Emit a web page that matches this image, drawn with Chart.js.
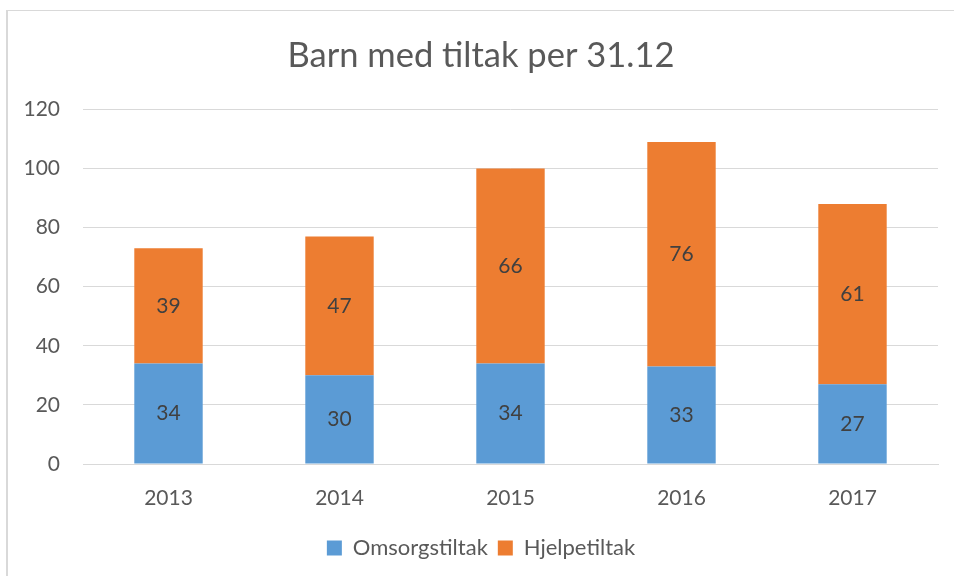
<!DOCTYPE html>
<html>
<head>
<meta charset="utf-8">
<script src="https://cdn.jsdelivr.net/npm/chart.js@4"></script>
<style>
  html, body { margin: 0; padding: 0; background: #fff; }
  #wrap { position: relative; width: 954px; height: 576px; overflow: hidden; }
  #frame { position: absolute; left: 6px; top: 10px; width: 980px; height: 600px; border-left: 2px solid #d9d9d9; border-top: 1px solid #d9d9d9; }
  #myChart { position: absolute; left: 0; top: 0; }
</style>
</head>
<body>
<div id="wrap">
  <div id="frame"></div>
  <canvas id="myChart" width="954" height="576"></canvas>
</div>
<script>
const years = ['2013', '2014', '2015', '2016', '2017']
const omsorg = [34, 30, 34, 33, 27]
const hjelpe = [39, 47, 66, 76, 61]
const yTicks = [0, 20, 40, 60, 80, 100, 120]

const grey = '#595959'
const fontName = 'Lato, "Open Sans", sans-serif'

// writes the value in the middle of each bar
const barLabels = {
  id: 'barLabels',
  afterDatasetsDraw(chart) {
    const ctx = chart.ctx
    ctx.save()
    ctx.font = '21px ' + fontName
    ctx.fillStyle = '#404040'
    ctx.textAlign = 'center'
    ctx.textBaseline = 'middle'
    chart.data.datasets.forEach((ds, i) => {
      chart.getDatasetMeta(i).data.forEach((bar, j) => {
        const mid = (bar.y + bar.base) / 2
        ctx.fillText(ds.data[j], bar.x, mid)
      })
    })
    ctx.restore()
  }
}

const ctx = document.getElementById('myChart')

new Chart(ctx, {
  type: 'bar',
  data: {
    labels: years,
    datasets: [{
      label: 'Omsorgstiltak',
      data: omsorg,
      backgroundColor: '#5b9bd5',
      borderWidth: 0
    },
    {
      label: 'Hjelpetiltak',
      data: hjelpe,
      backgroundColor: '#ed7d31',
      borderWidth: 0
    }]
  },
  plugins: [barLabels],
  options: {
    responsive: false,
    animation: false,
    layout: { padding: { left: 24, right: 16, top: 0, bottom: 7 } },
    datasets: { bar: { categoryPercentage: 1, barPercentage: 0.4 } },
    plugins: {
      tooltip: { enabled: false },
      title: {
        display: true,
        text: 'Barn med tiltak per 31.12',
        color: grey,
        font: { family: fontName, size: 34.5, weight: 'normal' },
        padding: { top: 35, bottom: 33 }
      },
      legend: {
        position: 'bottom',
        labels: {
          color: grey,
          font: { family: fontName, size: 22 },
          boxWidth: 15,
          boxHeight: 15,
          padding: 10
        }
      }
    },
    scales: {
      x: {
        stacked: true,
        grid: { display: false },
        border: { display: true, color: '#d9d9d9', width: 1 },
        ticks: { color: grey, font: { family: fontName, size: 21 }, padding: 14 },
        afterFit(scale) { scale.height = 63 }
      },
      y: {
        stacked: true,
        min: 0,
        max: 120,
        afterBuildTicks(scale) { scale.ticks = yTicks.map(v => ({ value: v })) },
        grid: { color: '#d9d9d9', drawTicks: false },
        border: { display: false },
        ticks: { color: grey, font: { family: fontName, size: 21 }, padding: 23 },
        afterFit(scale) { scale.width = 59 }
      }
    }
  }
})
</script>
</body>
</html>
